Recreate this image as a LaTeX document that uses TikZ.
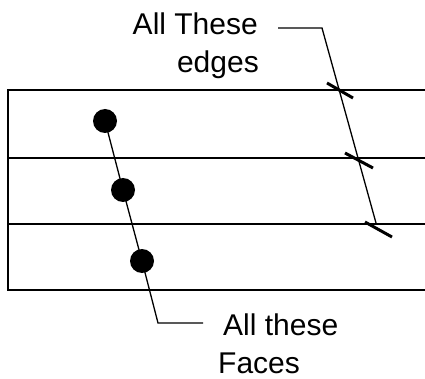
\documentclass[tikz,border=0pt]{standalone}
\usepackage{fontspec}
\setmainfont{Liberation Sans}
\begin{document}
\begin{tikzpicture}[x=1pt,y=-1pt,
  frame/.style={line width=1.8pt},
  leader/.style={line width=1.3pt},
  tick/.style={line width=3pt},
  facedot/.style={circle,fill=black,minimum size=24pt,inner sep=0pt},
  lbl/.style={font=\fontsize{30}{38}\selectfont,inner sep=0pt}]
\useasboundingbox (0,0) rectangle (425,379);
% frame and face boundaries
\draw[frame] (426,90) -- (8,90) -- (8,290) -- (426,290);
\draw[frame] (8,158) -- (426,158);
\draw[frame] (8,224) -- (426,224);
% face dots
\node[facedot] (d1) at (105,121) {};
\node[facedot] (d2) at (123,190) {};
\node[facedot] (d3) at (142,261) {};
\coordinate (fk) at (158,323);
\coordinate (fe) at (203,323);
\draw[leader] (d1.center) -- (d2.center) -- (d3.center) -- (fk) -- (fe);
\node[lbl,anchor=base west] (fa) at (223,335) {All these};
\node[lbl,anchor=base west] (fb) at (218,373) {Faces};
% edges leader
\node[lbl,anchor=base east] (ea) at (258,35) {All These};
\node[lbl,anchor=base east] (eb) at (259,73) {edges};
\coordinate (es) at (278,28);
\coordinate (ek) at (322,28);
\coordinate (ee) at (376,223);
\draw[leader] (es) -- (ek) -- (ee);
% tick marks on edges
\coordinate (t1a) at (327,83);  \coordinate (t1b) at (353,98);
\coordinate (t2a) at (345,153); \coordinate (t2b) at (373,168);
\coordinate (t3a) at (365,222); \coordinate (t3b) at (392,237);
\draw[tick] (t1a) -- (t1b);
\draw[tick] (t2a) -- (t2b);
\draw[tick] (t3a) -- (t3b);
\end{tikzpicture}
\end{document}
